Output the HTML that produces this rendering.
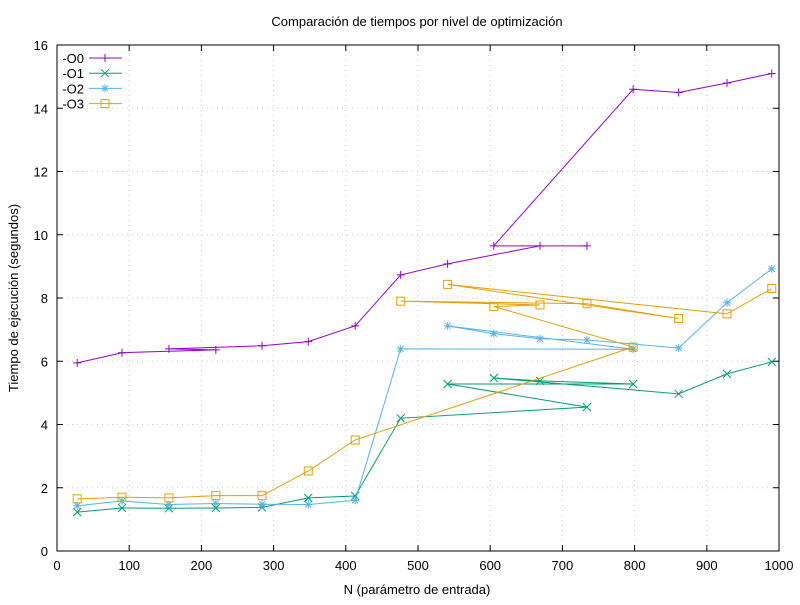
<!DOCTYPE html>
<html><head><meta charset="utf-8"><style>
body{margin:0;background:#fff}
svg text{font-family:"Liberation Sans",sans-serif;font-size:13px;fill:#000}
</style></head><body>
<svg id="chart" width="800" height="600" xmlns="http://www.w3.org/2000/svg"></svg>
<script>
const nValues=[28,90,155,220,284,348,413,476,541,605,669,734,798,861,928,990];
const seriesNames=["-O0","-O1","-O2","-O3"];
const o0Order=[0,1,3,2,4,5,6,7,8,10,11,9,12,13,14,15];
const o0Times=[5.95,6.27,6.39,6.36,6.49,6.62,7.12,8.73,9.08,9.65,9.65,9.65,14.6,14.5,14.8,15.1];
const o1Order=[0,1,2,3,4,5,6,7,11,8,12,10,9,13,14,15];
const o1Times=[1.23,1.36,1.35,1.36,1.38,1.68,1.74,4.2,5.28,5.47,5.38,4.55,5.28,4.97,5.6,5.98];
const o2Order=[0,1,2,3,4,5,6,7,12,8,9,10,11,13,14,15];
const o2Times=[1.43,1.58,1.47,1.5,1.48,1.47,1.6,6.39,7.12,6.87,6.71,6.67,6.38,6.42,7.85,8.92];
const o3Order=[0,1,2,3,4,5,6,12,9,10,7,11,13,8,14,15];
const o3Times=[1.65,1.7,1.68,1.75,1.75,2.53,3.51,7.9,8.43,7.73,7.78,7.82,6.45,7.35,7.5,8.3];
const xTicks=[0,100,200,300,400,500,600,700,800,900,1000];
const yTicks=[0,2,4,6,8,10,12,14,16];

const L=57,R=779,T=45,B=551;
const xs=v=>L+(v/1000)*(R-L);
const ys=v=>B-(v/16)*(B-T);
const svg=document.getElementById('chart');
const NS="http://www.w3.org/2000/svg";
function mk(tag,attrs,parent){const e=document.createElementNS(NS,tag);for(const k in attrs)e.setAttribute(k,attrs[k]);(parent||svg).appendChild(e);return e;}

const grid=mk('g',{});


xTicks.forEach(t=>{if(t>0&&t<1000)mk('line',{x1:xs(t),x2:xs(t),y1:T,y2:B,stroke:'#c8c8c8','stroke-dasharray':'1,4'},grid);});
yTicks.forEach(t=>{if(t>0&&t<16)mk('line',{x1:L,x2:R,y1:ys(t),y2:ys(t),stroke:'#c8c8c8','stroke-dasharray':'1,4'},grid);});

const axes=mk('g',{});


mk('rect',{x:L,y:T,width:R-L,height:B-T,fill:'none',stroke:'#000'},axes);
xTicks.forEach(t=>{
  mk('line',{x1:xs(t),x2:xs(t),y1:B,y2:B-6,stroke:'#000'},axes);
  mk('line',{x1:xs(t),x2:xs(t),y1:T,y2:T+6,stroke:'#000'},axes);
  const tx=mk('text',{x:xs(t),y:B+19,'text-anchor':'middle'},axes);tx.textContent=t;
  
  
});
yTicks.forEach(t=>{
  mk('line',{x1:L,x2:L+6,y1:ys(t),y2:ys(t),stroke:'#000'},axes);
  mk('line',{x1:R,x2:R-6,y1:ys(t),y2:ys(t),stroke:'#000'},axes);
  const tx=mk('text',{x:L-9,y:ys(t)+5,'text-anchor':'end'},axes);tx.textContent=t;
  
  
});
const title=mk('text',{x:417,y:26,'text-anchor':'middle'});title.textContent='Comparación de tiempos por nivel de optimización';


const xt=mk('text',{x:417,y:594,'text-anchor':'middle'});xt.textContent='N (parámetro de entrada)';


const yt=mk('text',{x:18,y:298,'text-anchor':'middle',transform:'rotate(-90 18 298)'});yt.textContent='Tiempo de ejecución (segundos)';



const colors=['#9400d3','#009e73','#56b4e9','#e69f00'];
const orders=[o0Order,o1Order,o2Order,o3Order];
const times=[o0Times,o1Times,o2Times,o3Times];
function marker(k,x,y,g){
  const c=colors[k];
  if(k===0){mk('path',{d:`M${x-4},${y}h8M${x},${y-4}v8`,stroke:c,fill:'none'},g);}
  else if(k===1){mk('path',{d:`M${x-4},${y-4}l8,8M${x-4},${y+4}l8,-8`,stroke:c,fill:'none'},g);}
  else if(k===2){mk('path',{d:`M${x-4},${y}h8M${x},${y-4}v8M${x-3},${y-3}l6,6M${x-3},${y+3}l6,-6`,stroke:c,fill:'none'},g);}
  else {mk('rect',{x:x-4,y:y-4,width:8,height:8,stroke:c,fill:'none'},g);}
}
for(let k=0;k<4;k++){
  const g=mk('g',{});
  
  
  const pts=orders[k].map(i=>[xs(nValues[i]),ys(times[k][i])]);
  mk('polyline',{points:pts.map(p=>p.join(',')).join(' '),fill:'none',stroke:colors[k],'stroke-width':1},g);
  pts.forEach(p=>marker(k,p[0],p[1],g));
  const lg=mk('g',{});
  
  
  const ly=58+k*15.2;
  const lt=mk('text',{x:84,y:ly+5,'text-anchor':'end'},lg);lt.textContent=seriesNames[k];
  mk('line',{x1:89,x2:122,y1:ly,y2:ly,stroke:colors[k]},lg);
  marker(k,105,ly,lg);
}
</script>
</body></html>
